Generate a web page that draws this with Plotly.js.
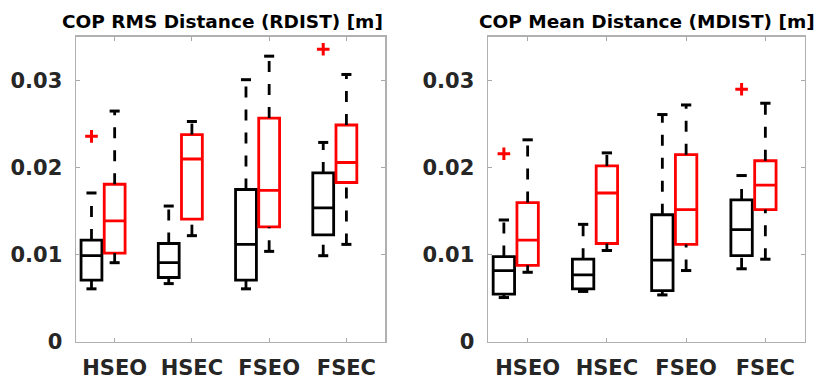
<!DOCTYPE html>
<html>
<head>
<meta charset="utf-8">
<script src="https://cdn.plot.ly/plotly-3.0.1.min.js"></script>
<style>html,body{margin:0;padding:0;background:#fff;}#chart{width:822px;height:381px;}</style>
</head>
<body>
<div id="chart"></div>
<script>
const categories = ['HSEO', 'HSEC', 'FSEO', 'FSEC'];

// COP RMS Distance (RDIST) [m]
const rdistBlackLower  = [0.0061, 0.0067, 0.0061, 0.0099];
const rdistBlackQ1     = [0.0071, 0.0074, 0.0071, 0.0123];
const rdistBlackMedian = [0.0099, 0.0091, 0.0112, 0.0154];
const rdistBlackQ3     = [0.0117, 0.0113, 0.0175, 0.0194];
const rdistBlackUpper  = [0.0171, 0.0156, 0.0301, 0.0229];
const rdistRedLower    = [0.0091, 0.0122, 0.0104, 0.0112];
const rdistRedQ1       = [0.0102, 0.0141, 0.0132, 0.0183];
const rdistRedMedian   = [0.0139, 0.0210, 0.0174, 0.0206];
const rdistRedQ3       = [0.0181, 0.0238, 0.0257, 0.0249];
const rdistRedUpper    = [0.0265, 0.0253, 0.0328, 0.0307];
const rdistOutlierCats = ['HSEO', 'FSEC'];
const rdistOutlierVals = [0.0236, 0.0336];

// COP Mean Distance (MDIST) [m]
const mdistBlackLower  = [0.0051, 0.0058, 0.0054, 0.0084];
const mdistBlackQ1     = [0.0055, 0.0061, 0.0059, 0.0099];
const mdistBlackMedian = [0.0082, 0.0077, 0.0094, 0.0129];
const mdistBlackQ3     = [0.0098, 0.0095, 0.0146, 0.0163];
const mdistBlackUpper  = [0.0140, 0.0135, 0.0261, 0.0191];
const mdistRedLower    = [0.0080, 0.0105, 0.0082, 0.0095];
const mdistRedQ1       = [0.0088, 0.0113, 0.0112, 0.0152];
const mdistRedMedian   = [0.0117, 0.0171, 0.0152, 0.0180];
const mdistRedQ3       = [0.0160, 0.0202, 0.0215, 0.0208];
const mdistRedUpper    = [0.0232, 0.0217, 0.0272, 0.0274];
const mdistOutlierCats = ['HSEO', 'FSEC'];
const mdistOutlierVals = [0.0216, 0.0290];

const titles = ['COP RMS Distance (RDIST) [m]', 'COP Mean Distance (MDIST) [m]'];

const BLACK = '#000000', RED = '#ff0000';
const OFFSET_BLACK = -0.3, OFFSET_RED = 0;
const BOX_W = 0.27, CAP_HALF = 0.065;
const FONT = 'DejaVu Sans';

function groupTraces(xa, ya, color, offset, lower, q1, med, q3, upper) {
  const pos = categories.map((c, i) => i + 1 + offset);
  const box = {
    type: 'box', xaxis: xa, yaxis: ya, x: pos,
    q1: q1, median: med, q3: q3, lowerfence: q1, upperfence: q3,
    width: BOX_W, whiskerwidth: 0, boxpoints: false,
    fillcolor: 'rgba(0,0,0,0)', line: {color: color, width: 2.8},
    showlegend: false, hoverinfo: 'skip'
  };
  const wx = [], wy = [], cx = [], cy = [];
  pos.forEach((p, i) => {
    // drawn bottom to top, as in the original
    wx.push(p, p, null, p, p, null);
    wy.push(lower[i], q1[i], null, q3[i], upper[i], null);
    cx.push(p - CAP_HALF, p + CAP_HALF, null, p - CAP_HALF, p + CAP_HALF, null);
    cy.push(lower[i], lower[i], null, upper[i], upper[i], null);
  });
  const whisk = {type: 'scatter', mode: 'lines', xaxis: xa, yaxis: ya, x: wx, y: wy,
    line: {color: BLACK, width: 2.8, dash: '11px,12px'}, connectgaps: false,
    showlegend: false, hoverinfo: 'skip'};
  const caps = {type: 'scatter', mode: 'lines', xaxis: xa, yaxis: ya, x: cx, y: cy,
    line: {color: BLACK, width: 3}, connectgaps: false,
    showlegend: false, hoverinfo: 'skip'};
  return [whisk, caps, box];
}

function outlierTrace(xa, ya, cats, vals) {
  return {type: 'scatter', mode: 'markers', xaxis: xa, yaxis: ya,
    x: cats.map(c => categories.indexOf(c) + 1 + OFFSET_BLACK), y: vals,
    marker: {symbol: 'cross-thin', size: 9, line: {color: RED, width: 3}, color: RED},
    showlegend: false, hoverinfo: 'skip'};
}

const data = [].concat(
  groupTraces('x', 'y', BLACK, OFFSET_BLACK, rdistBlackLower, rdistBlackQ1, rdistBlackMedian, rdistBlackQ3, rdistBlackUpper),
  groupTraces('x', 'y', RED, OFFSET_RED, rdistRedLower, rdistRedQ1, rdistRedMedian, rdistRedQ3, rdistRedUpper),
  [outlierTrace('x', 'y', rdistOutlierCats, rdistOutlierVals)],
  groupTraces('x2', 'y2', BLACK, OFFSET_BLACK, mdistBlackLower, mdistBlackQ1, mdistBlackMedian, mdistBlackQ3, mdistBlackUpper),
  groupTraces('x2', 'y2', RED, OFFSET_RED, mdistRedLower, mdistRedQ1, mdistRedMedian, mdistRedQ3, mdistRedUpper),
  [outlierTrace('x2', 'y2', mdistOutlierCats, mdistOutlierVals)]
);

const tickFont = {family: FONT, size: 21, color: '#262626', weight: 'bold'};
function xAxis(domain, anchor) {
  return {domain: domain, anchor: anchor, range: [0.5, 4.5],
    tickvals: categories.map((c, i) => i + 1), ticktext: categories,
    ticks: 'inside', ticklen: 4, tickwidth: 1, tickcolor: '#a8a8a8',
    showline: true, linecolor: '#b0b0b0', linewidth: 1.5, mirror: 'ticks',
    showgrid: false, zeroline: false, tickfont: tickFont, ticklabelstandoff: 6, fixedrange: true};
}
function yAxis(anchor) {
  return {domain: [0.1024, 0.9029], anchor: anchor, range: [0, 0.035],
    tickvals: [0, 0.01, 0.02, 0.03], ticktext: ['0', '0.01', '0.02', '0.03'],
    ticks: 'inside', ticklen: 4, tickwidth: 1, tickcolor: '#a8a8a8',
    showline: true, linecolor: '#b0b0b0', linewidth: 1.5, mirror: 'ticks',
    showgrid: false, zeroline: false, tickfont: tickFont, ticklabelstandoff: 8, fixedrange: true};
}

const titleFont = {family: FONT, size: 18.5, color: '#000000', weight: 'bold'};
const layout = {
  width: 822, height: 381,
  margin: {l: 0, r: 0, t: 0, b: 0},
  paper_bgcolor: '#ffffff', plot_bgcolor: '#ffffff',
  showlegend: false,
  xaxis: xAxis([0.0925, 0.4684], 'y'),
  yaxis: yAxis('x'),
  xaxis2: xAxis([0.5937, 0.9793], 'y2'),
  yaxis2: yAxis('x2'),
  annotations: [
    {text: titles[0], xref: 'paper', yref: 'paper', x: 0.2707, y: 0.944,
     xanchor: 'center', yanchor: 'middle', showarrow: false, font: titleFont},
    {text: titles[1], xref: 'paper', yref: 'paper', x: 0.7877, y: 0.944,
     xanchor: 'center', yanchor: 'middle', showarrow: false, font: titleFont}
  ]
};

Plotly.newPlot('chart', data, layout, {displayModeBar: false, staticPlot: true});
</script>
</body>
</html>
